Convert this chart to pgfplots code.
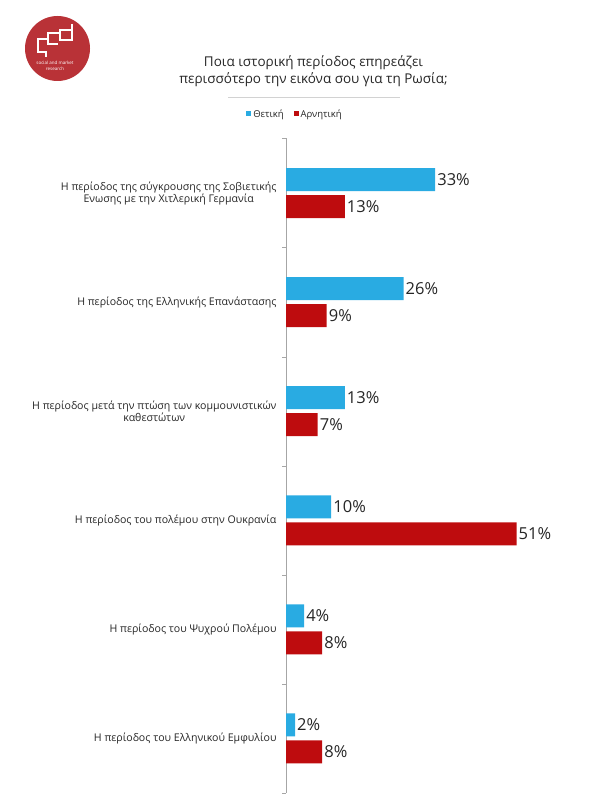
\documentclass[border=0pt]{standalone}
\usepackage{fontspec}
\setmainfont{Open Sans}
\usepackage{pgfplots}
\pgfplotsset{compat=1.18}
\definecolor{pos}{RGB}{41,171,226}
\definecolor{neg}{RGB}{190,12,14}
\definecolor{logored}{RGB}{185,50,55}
\definecolor{txt}{RGB}{38,38,38}
\begin{document}
\begin{tikzpicture}[x=1pt,y=1pt]
\path[use as bounding box] (0,0) rectangle (591,803);
% logo
\fill[logored] (57.5,754.5) circle [radius=32.5];
\begin{scope}[white, line width=2.2pt, line join=miter, line cap=butt]
\draw (49,764)--(38,764)--(38,751)--(46,751)--(46,746);
\draw (61,770)--(48,770)--(48,759)--(58,759);
\draw (72,779)--(72,763)--(60,763)--(60,773)--(72,773);
\end{scope}
\node[white, font=\fontsize{4.5}{6.5}\selectfont, align=center] at (55,737) {social and market\\research};
% title
\node[align=center, font=\fontsize{13.5}{17}\selectfont, text=txt] at (313.5,731.5) {Ποια ιστορική περίοδος επηρεάζει\\περισσότερο την εικόνα σου για τη Ρωσία;};
\draw[gray!35, line width=0.8pt] (228,706) -- (400,706);
\begin{axis}[
  at={(286pt,10pt)}, anchor=south west, scale only axis,
  width=280pt, height=654.5pt,
  xbar, xmin=0, xmax=61.95, ymin=-0.5, ymax=5.5,
  axis y line=left, axis x line=none,
  y axis line style={-, draw=gray!70},
  ytick={0,...,5},
  yticklabels={{Η περίοδος του Ελληνικού Εμφυλίου},
               {Η περίοδος του Ψυχρού Πολέμου},
               {Η περίοδος του πολέμου στην Ουκρανία},
               {Η περίοδος μετά την πτώση των κομμουνιστικών\\καθεστώτων},
               {Η περίοδος της Ελληνικής Επανάστασης},
               {Η περίοδος της σύγκρουσης της Σοβιετικής\\Ενωσης με την Χιτλερική Γερμανία}},
  major tick length=0pt,
  yticklabel style={align=center, font=\fontsize{10.6}{12}\selectfont, text=txt, xshift=-6pt},
  extra y ticks={-0.5,0.5,1.5,2.5,3.5,4.5,5.5},
  extra y tick labels={},
  extra y tick style={major tick length=4pt, tick align=outside, tick style={draw=gray!70}},
  /pgf/number format/assume math mode=true,
  bar width=23pt,
  nodes near coords={\pgfmathprintnumber{\pgfplotspointmeta}\%},
  nodes near coords style={font=\fontsize{16.5}{16.5}\selectfont, inner sep=2pt, text=txt},
  legend style={at={(0.032,1.0375)}, anchor=center, draw=none, legend columns=2,
    font=\fontsize{9.5}{11}\selectfont, text=txt, inner sep=0pt,
    /tikz/every even column/.append style={column sep=8pt}},
  legend image code/.code={\fill[#1] (0pt,-2.5pt) rectangle (5pt,2.5pt);},
]
\addplot[fill=pos, draw=none, bar shift=13.5pt] coordinates {(2,0) (4,1) (10,2) (13,3) (26,4) (33,5)};
\addplot[fill=neg, draw=none, bar shift=-13.5pt] coordinates {(8,0) (8,1) (51,2) (7,3) (9,4) (13,5)};
\legend{Θετική, Αρνητική}
\end{axis}
\end{tikzpicture}
\end{document}
